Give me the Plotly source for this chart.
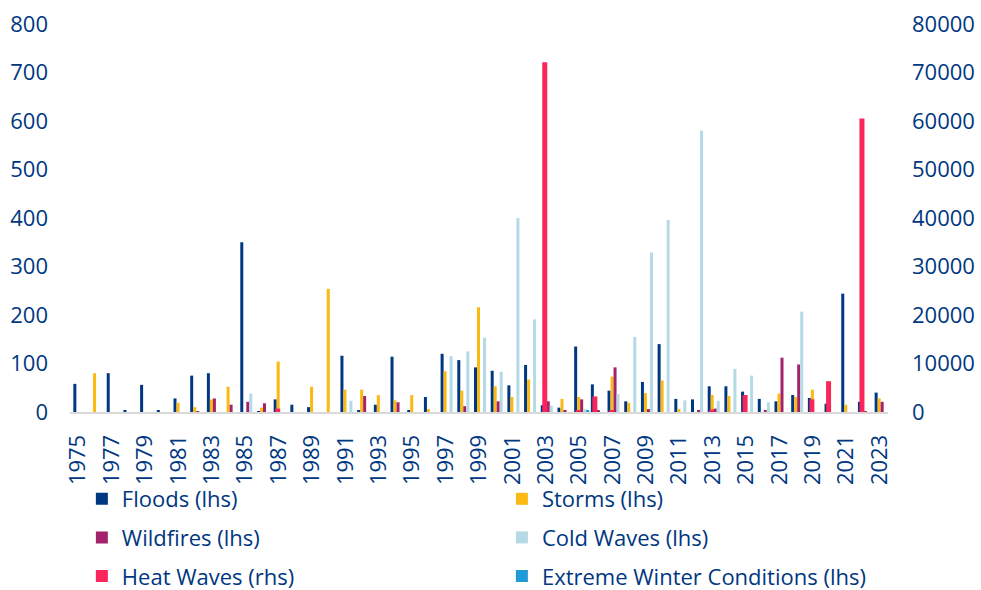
import plotly.graph_objects as go

years = list(range(1975, 2024))

# Events per year (left-hand scale); heat waves on the right-hand scale
floods = [58, 0, 80, 4, 56, 4, 28, 75, 80, 0,
          350, 2, 26, 15, 10, 0, 116, 3, 15, 114,
          3, 31, 120, 107, 92, 85, 55, 97, 14, 9,
          135, 57, 44, 22, 62, 140, 27, 26, 53, 53,
          42, 27, 22, 35, 29, 17, 244, 21, 40]
storms = [0, 80, 0, 0, 0, 0, 19, 10, 26, 52,
          0, 9, 104, 0, 52, 254, 46, 46, 35, 24,
          35, 6, 84, 44, 216, 53, 31, 67, 0, 27,
          31, 0, 73, 19, 39, 65, 6, 0, 35, 33,
          0, 0, 38, 31, 46, 0, 15, 0, 28]
wildfires = [0, 0, 0, 0, 0, 0, 0, 1, 28, 15,
             21, 18, 0, 0, 0, 0, 0, 33, 0, 20,
             0, 0, 0, 12, 0, 22, 0, 0, 22, 3,
             26, 3, 92, 0, 6, 0, 0, 3, 7, 0,
             0, 3, 112, 98, 0, 0, 0, 2, 21]
cold_waves = [0, 0, 0, 0, 0, 0, 0, 0, 0, 0,
              38, 0, 0, 0, 0, 0, 23, 0, 0, 0,
              0, 0, 115, 125, 153, 83, 400, 191, 13, 0,
              6, 0, 37, 155, 329, 396, 24, 580, 23, 89,
              75, 20, 0, 207, 0, 0, 0, 0, 0]
heat_waves = [0, 0, 0, 0, 0, 0, 0, 0, 0, 0,
              0, 0, 700, 0, 0, 0, 0, 0, 0, 0,
              0, 0, 0, 0, 0, 0, 0, 0, 72100, 0,
              300, 3200, 300, 0, 0, 0, 0, 0, 500, 0,
              3500, 0, 0, 0, 2600, 6350, 0, 60500, 0]
extreme_winter = [0, 0, 0, 0, 0, 0, 0, 0, 0, 0,
                  0, 0, 0, 0, 0, 0, 0, 0, 0, 0,
                  0, 0, 0, 0, 0, 0, 0, 0, 0, 0,
                  4, 0, 0, 0, 0, 0, 0, 0, 0, 0,
                  0, 0, 0, 0, 0, 0, 0, 0, 0]

NAVY = "#003781"
FONT = "Open Sans"
BW = 0.18  # width of one primary bar, in years

fig = go.Figure()

# name, values, colour, offset, legend column
primary = [
    ("Floods (lhs)", floods, "#003781", -0.30, "legend"),
    ("Storms (lhs)", storms, "#FDB913", -0.12, "legend2"),
    ("Wildfires (lhs)", wildfires, "#A2236C", 0.06, "legend"),
    ("Cold Waves (lhs)", cold_waves, "#B5DAE6", 0.24, "legend2"),
]
for name, vals, col, off, leg in primary:
    fig.add_trace(go.Bar(x=years, y=vals, name=name, marker_color=col,
                         marker_line_width=0, offset=off, width=BW,
                         legend=leg, legendgroup=name, yaxis="y"))

fig.add_trace(go.Bar(x=years, y=heat_waves, name="Heat Waves (rhs)",
                     marker_color="#F9255B", marker_line_width=0,
                     offset=-0.21, width=0.30, legend="legend",
                     legendgroup="heat", yaxis="y2"))
fig.add_trace(go.Bar(x=years, y=extreme_winter, name="Extreme Winter Conditions (lhs)",
                     marker_color="#1E9BD7", marker_line_width=0,
                     offset=0.42, width=BW, legend="legend2",
                     legendgroup="winter", yaxis="y"))

leg_common = dict(orientation="v", xanchor="left", yanchor="middle",
                  y=-0.3235, tracegroupgap=7,
                  font=dict(family=FONT, size=22, color=NAVY),
                  bgcolor="rgba(0,0,0,0)")

fig.update_layout(
    width=981, height=590,
    margin=dict(l=70, r=93, t=24, b=178, autoexpand=False),
    paper_bgcolor="white", plot_bgcolor="white",
    barmode="overlay",
    font=dict(family=FONT, size=22, color=NAVY),
    xaxis=dict(range=[1974.5, 2023.5], tickmode="array",
               tickvals=years[::2], ticktext=[str(y) for y in years[::2]],
               tickangle=-90, ticks="", showgrid=False, zeroline=False,
               showline=True, linecolor="#D9D9D9", linewidth=2,
               tickfont=dict(family=FONT, size=22, color=NAVY),
               ticklabelstandoff=12),
    yaxis=dict(range=[0, 800], dtick=100, showgrid=False, zeroline=False,
               ticks="", tickfont=dict(family=FONT, size=22, color=NAVY),
               ticklabelstandoff=21),
    yaxis2=dict(range=[0, 80000], dtick=10000, overlaying="y", side="right",
                showgrid=False, zeroline=False, ticks="", tickformat="d",
                tickfont=dict(family=FONT, size=22, color=NAVY),
                ticklabelstandoff=23),
    legend=dict(x=0.0145, **leg_common),
    legend2=dict(x=0.528, **leg_common),
)

fig.write_html("out.html")
